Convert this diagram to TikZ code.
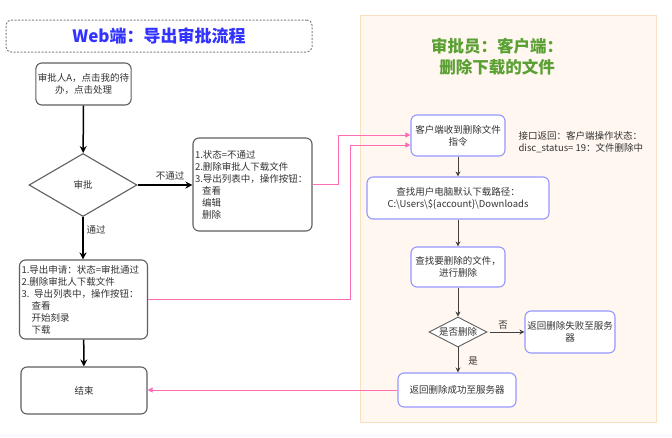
\documentclass[tikz,border=0pt]{standalone}
\usepackage{fontspec}
\setmainfont{Noto Sans CJK SC}
\usetikzlibrary{arrows.meta,shapes.geometric}
\definecolor{titleblue}{RGB}{51,51,255}
\definecolor{titlegreen}{RGB}{90,160,50}
\definecolor{boxgrey}{RGB}{95,95,95}
\definecolor{boxblue}{RGB}{150,150,255}
\definecolor{pinkline}{RGB}{255,110,180}
\definecolor{panelfill}{RGB}{255,247,240}
\definecolor{paneldraw}{RGB}{250,225,190}
\definecolor{stripfill}{RGB}{248,250,253}
\tikzset{
  every node/.style={font=\fontsize{9.5}{12}\selectfont, text=black!80},
  leftbox/.style={draw=boxgrey, line width=1.1pt, rounded corners=6pt, fill=white, inner sep=2pt},
  rightbox/.style={draw=boxblue, line width=1.1pt, rounded corners=6pt, fill=white, inner sep=2pt, align=center},
  leftarrow/.style={draw=black, line width=1.5pt, -{Stealth[length=7pt,width=7pt]}},
  rightarrow/.style={draw=black!75, line width=0.8pt, -{Stealth[length=5pt,width=5pt]}},
  pinkarrow/.style={draw=pinkline, line width=1pt, -{Triangle[length=5pt,width=5pt]}},
  lbl/.style={inner sep=0pt}
}
\begin{document}
\begin{tikzpicture}[x=1pt,y=-1pt]
\useasboundingbox (0,0) rectangle (672,437);
\fill[white] (0,0) rectangle (672,437);
\fill[stripfill] (0,434) rectangle (672,437);
% right panel
\node[draw=paneldraw, fill=panelfill, line width=0.8pt, minimum width=296pt, minimum height=407pt, inner sep=0pt] (panel) at (508,218.5) {};
\node[font=\fontsize{16.5}{21}\selectfont\bfseries, text=titlegreen, align=center] (rtitle) at (497,57) {审批员：客户端：\\删除下载的文件};
% left title
\node[draw=gray, dash pattern=on 2pt off 1.5pt, line width=1pt, rounded corners=5pt, minimum width=306pt, minimum height=32pt, font=\fontsize{17}{20}\selectfont\bfseries, text=titleblue] (ltitle) at (159,36) {Web端：导出审批流程};
% left flow
\node[leftbox, minimum width=93pt, minimum height=42pt, align=center] (A) at (83.5,84) {审批人A，点击我的待\\办，点击处理};
\node[draw=boxgrey, line width=1.1pt, diamond, minimum width=108pt, minimum height=63pt, inner sep=0pt, fill=white] (D1) at (83,185) {审批};
\node[leftbox, minimum width=119pt, minimum height=93pt, text width=115pt, align=left] (B) at (252.5,184.5) {1.状态=不通过\\2.删除审批人下载文件\\3.导出列表中，操作按钮：\\\hspace*{7pt}查看\\\hspace*{7pt}编辑\\\hspace*{7pt}删除\\[4pt]};
\node[leftbox, minimum width=127pt, minimum height=79pt, text width=124pt, align=left] (C) at (83.5,299.5) {1.导出申请：状态=审批通过\\2.删除审批人下载文件\\3. 导出列表中，操作按钮：\\\hspace*{10pt}查看\\\hspace*{10pt}开始刻录\\\hspace*{10pt}下载};
\node[leftbox, minimum width=126pt, minimum height=47pt] (E0) at (84,390.5) {结束};
\draw[leftarrow] (A) -- (D1);
\draw[leftarrow] (D1.east) -- (B.west |- D1.east);
\draw[leftarrow] (D1.south) -- (C.north -| D1.south);
\draw[leftarrow] (C) -- (E0);
\node[lbl] (nopass) at (170,176) {不通过};
\node[lbl] (pass) at (96,230) {通过};
% right flow
\node[rightbox, minimum width=94pt, minimum height=41pt] (Dr) at (458,135.5) {客户端收到删除文件\\指令};
\node[align=left, anchor=west] (note) at (515,142) {接口返回：客户端操作状态：\\disc\_status= 19：文件删除中};
\node[rightbox, minimum width=182pt, minimum height=42pt] (Er) at (458,198) {查找用户电脑默认下载路径：\\C:\textbackslash Users\textbackslash \$\{account\}\textbackslash Downloads};
\node[rightbox, minimum width=94pt, minimum height=40pt] (Fr) at (458,267) {查找要删除的文件，\\进行删除};
\node[draw=boxgrey, line width=0.9pt, diamond, aspect=2, minimum width=58pt, minimum height=30pt, inner sep=0pt, fill=white] (Gr) at (458,332) {是否删除};
\node[rightbox, minimum width=90pt, minimum height=42pt] (Hr) at (570,332) {返回删除失败至服务\\器};
\node[rightbox, minimum width=118pt, minimum height=34pt] (Ir) at (457,390) {返回删除成功至服务器};
\draw[rightarrow] (Dr) -- (Er);
\draw[rightarrow] (Er) -- (Fr);
\draw[rightarrow] (Fr) -- (Gr);
\coordinate (gr1) at (490,332);
\draw[rightarrow] (gr1) -- (Hr.west);
\draw[rightarrow] (Gr.south) -- (Gr.south |- Ir.north);
\node[lbl] (no) at (503,325) {否};
\node[lbl] (yes) at (473,361) {是};
% pink connectors
\coordinate (p1) at (338,135);
\coordinate (p2) at (350,145);
\draw[pinkarrow] (B.east) -| (p1) -- (p1 -| Dr.west);
\draw[pinkarrow] (C.east) -| (p2) -- (p2 -| Dr.west);
\draw[pinkarrow] (Ir.west) -- (E0.east |- Ir.west);
\end{tikzpicture}
\end{document}
